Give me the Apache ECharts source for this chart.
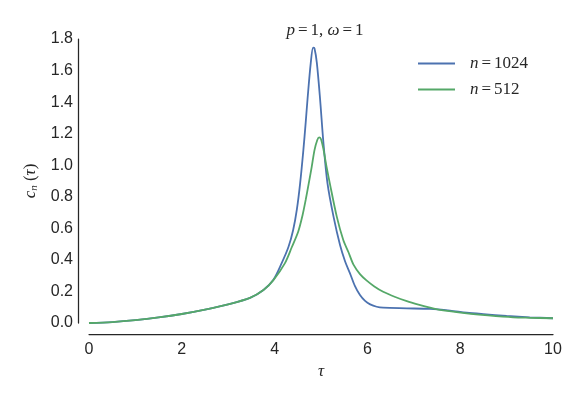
<!DOCTYPE html>
<html>
<head>
<meta charset="utf-8">
<script src="https://cdn.jsdelivr.net/npm/echarts@6/dist/echarts.min.js"></script>
<style>
  html, body { margin: 0; padding: 0; background: #fff; }
  #chart { width: 581px; height: 400px; }
</style>
</head>
<body>
<div id="chart"></div>
<script>
// tau values and c_n(tau)
const tau1024 = [0, 0.5, 1, 1.5, 2, 2.5, 3, 3.47, 3.76, 3.97, 4.15, 4.3, 4.4, 4.48, 4.55, 4.62, 4.67, 4.71, 4.78, 4.83, 4.86, 4.91, 4.98, 5.05, 5.14, 5.27, 5.41, 5.52, 5.625, 5.73, 5.84, 5.95, 6.06, 6.2, 6.34, 6.85, 7.35, 7.78, 8.14, 8.5, 9, 9.5, 10]
const c1024 = [0, 0.006, 0.018, 0.035, 0.057, 0.085, 0.118, 0.159, 0.209, 0.272, 0.378, 0.483, 0.589, 0.72, 0.885, 1.096, 1.27, 1.42, 1.65, 1.745, 1.74, 1.65, 1.42, 1.15, 0.885, 0.674, 0.494, 0.39, 0.315, 0.235, 0.177, 0.14, 0.118, 0.103, 0.097, 0.093, 0.089, 0.078, 0.065, 0.056, 0.045, 0.036, 0.03]

const tau512 = [0, 0.5, 1, 1.5, 2, 2.5, 3, 3.47, 3.76, 3.97, 4.22, 4.37, 4.51, 4.6, 4.67, 4.73, 4.8, 4.86, 4.92, 4.96, 5.0, 5.05, 5.12, 5.19, 5.34, 5.48, 5.59, 5.7, 5.84, 5.98, 6.15, 6.34, 6.6, 6.85, 7.1, 7.35, 7.56, 8.14, 8.6, 9.14, 9.5, 10]
const c512 = [0, 0.006, 0.018, 0.035, 0.057, 0.085, 0.118, 0.159, 0.209, 0.27, 0.378, 0.48, 0.58, 0.68, 0.78, 0.875, 0.99, 1.096, 1.16, 1.177, 1.165, 1.105, 0.99, 0.885, 0.674, 0.526, 0.45, 0.37, 0.31, 0.27, 0.232, 0.198, 0.165, 0.139, 0.117, 0.097, 0.083, 0.061, 0.048, 0.036, 0.033, 0.03]

const seriesNames = ['n=1024', 'n=512']
const seriesColors = ['#4C72B0', '#55A868']
const xTicks = [0, 10, 2]     // min, max, step
const yTicks = [0, 1.8, 0.2]

const ink = '#262626'
const serif = '"Liberation Serif", "DejaVu Serif", serif'
const sans = '"Liberation Sans", Arial, sans-serif'

function pairs (xs, ys) {
  return xs.map((x, i) => [x, ys[i]])
}

// math-like rich text pieces
const mathRich = {
  i: { fontFamily: serif, fontStyle: 'italic', fontWeight: 'normal', fontSize: 17, color: ink },
  r: { fontFamily: serif, fontWeight: 'normal', fontSize: 17, color: ink },
  e: { fontFamily: serif, fontWeight: 'normal', fontSize: 17, color: ink, padding: [0, 3, 0, 3] },
  s: { fontFamily: serif, fontStyle: 'italic', fontWeight: 'normal', fontSize: 11, color: ink, padding: [8, 0, 0, 0] }
}

const chart = echarts.init(document.getElementById('chart'))
const option = {
  backgroundColor: '#fff',
  animation: false,
  title: {
    text: '{i|p}{e|=}{r|1, }{i|ω}{e|=}{r|1}',
    left: 320,
    textAlign: 'center',
    top: 17,
    textStyle: { fontWeight: 'normal', rich: mathRich }
  },
  legend: {
    orient: 'vertical',
    left: 413,
    top: 50,
    itemGap: 9,
    itemWidth: 37,
    itemHeight: 2,
    icon: 'rect',
    data: seriesNames,
    formatter: name => '{i|n}{e|=}{r|' + name.slice(2) + '}',
    textStyle: {
      lineHeight: 17,
      padding: [0, 0, 0, 10],
      rich: mathRich
    }
  },
  grid: { left: 89, right: 28, top: 39, bottom: 77 },
  xAxis: {
    type: 'value',
    min: xTicks[0],
    max: xTicks[1],
    interval: xTicks[2],
    offset: 11,
    splitLine: { show: false },
    axisTick: { show: false },
    axisLine: { onZero: false, lineStyle: { color: ink, width: 1.25 } },
    axisLabel: { color: ink, fontFamily: sans, fontSize: 16, margin: 8 },
    name: '{i|τ}',
    nameLocation: 'middle',
    nameGap: 29,
    nameTextStyle: { rich: mathRich }
  },
  yAxis: {
    type: 'value',
    min: yTicks[0],
    max: yTicks[1],
    interval: yTicks[2],
    offset: 11,
    splitLine: { show: false },
    axisTick: { show: false },
    axisLine: { show: true, onZero: false, lineStyle: { color: ink, width: 1.25 } },
    axisLabel: { color: ink, fontFamily: sans, fontSize: 16, margin: 5, formatter: v => v.toFixed(1) },
    name: '{i|c}{s|n}{r| (}{i|τ}{r|)}',
    nameLocation: 'middle',
    nameRotate: 90,
    nameGap: 36,
    nameTextStyle: { rich: mathRich }
  },
  series: [
    {
      name: seriesNames[0],
      type: 'line',
      data: pairs(tau1024, c1024),
      smooth: 0.3,
      showSymbol: false,
      color: seriesColors[0],
      lineStyle: { width: 1.8 }
    },
    {
      name: seriesNames[1],
      type: 'line',
      data: pairs(tau512, c512),
      smooth: 0.3,
      showSymbol: false,
      color: seriesColors[1],
      lineStyle: { width: 1.8 }
    }
  ]
}
chart.setOption(option)
</script>
</body>
</html>
